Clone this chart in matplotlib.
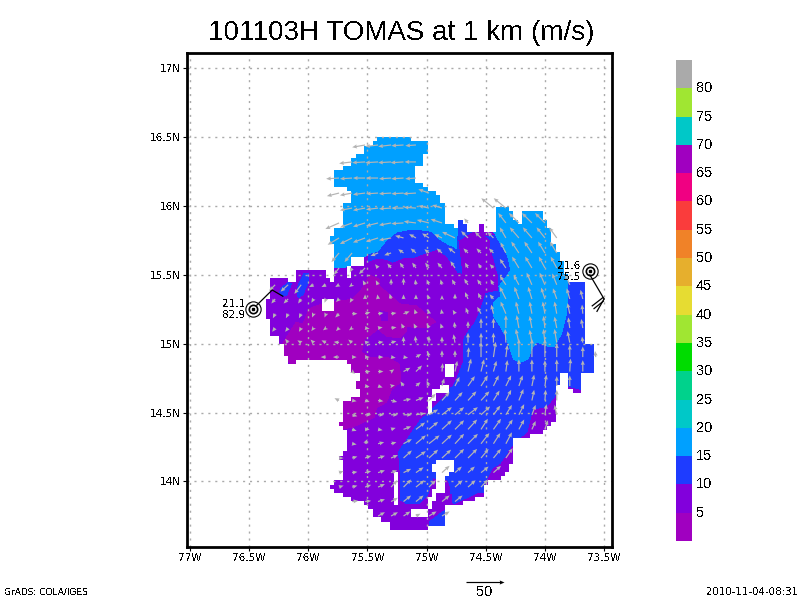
import numpy as np
import matplotlib
matplotlib.use("Agg")
import matplotlib.pyplot as plt
from matplotlib.path import Path
from matplotlib.colors import ListedColormap

# ---- axes / labels
X_TICKS = [-77, -76.5, -76, -75.5, -75, -74.5, -74, -73.5]
X_LABELS = ["77W", "76.5W", "76W", "75.5W", "75W", "74.5W", "74W", "73.5W"]
Y_TICKS = [14, 14.5, 15, 15.5, 16, 16.5, 17]
Y_LABELS = ["14N", "14.5N", "15N", "15.5N", "16N", "16.5N", "17N"]

# ---- colour key
KEY_LEVELS = [5, 10, 15, 20, 25, 30, 35, 40, 45, 50, 55, 60, 65, 70, 75, 80, 85]
KEY_COLORS = ["#a000c0", "#8200dc", "#1e3cff", "#00a0ff", "#00c8c8", "#00d28c", "#00dc00",
              "#a0e632", "#e6dc32", "#e6af2d", "#f08228", "#fa3c3c", "#f00082", "#a000c0",
              "#00c8c8", "#a0e632", "#aaaaaa"]

# ---- wind speed regions (lon, lat)
OUTER = [(-75.41,16.50),(-75.115,16.50),(-75.115,16.465),(-75.005,16.465),(-75.005,16.39),(-75.04,16.39),
 (-75.04,16.28),(-75.08,16.28),(-75.08,16.17),(-75.04,16.17),(-75.04,16.14),(-74.97,16.14),(-74.97,16.10),
 (-74.93,16.10),(-74.93,16.065),(-74.895,16.065),(-74.895,16.03),(-74.86,16.03),(-74.86,15.87),(-74.735,15.85),
 (-74.735,15.93),(-74.65,15.85),(-74.65,15.81),(-74.55,15.81),(-74.55,15.855),(-74.505,15.855),(-74.505,15.81),
 (-74.44,15.81),(-74.395,15.85),(-74.405,15.99),(-74.295,15.99),(-74.295,15.96),(-74.235,15.88),(-74.185,15.88),
 (-74.185,15.96),(-74.04,15.96),(-74.00,15.90),(-73.965,15.86),(-73.93,15.72),(-73.90,15.67),(-73.85,15.61),
 (-73.805,15.45),(-73.645,15.45),(-73.645,14.99),(-73.60,14.99),(-73.575,14.955),(-73.575,14.90),(-73.60,14.90),
 (-73.60,14.79),(-73.68,14.79),(-73.68,14.63),(-73.76,14.63),(-73.76,14.67),(-73.805,14.67),(-73.805,14.795),
 (-73.855,14.795),(-73.855,14.70),(-73.90,14.70),(-73.90,14.46),(-73.94,14.395),(-74.04,14.35),(-74.11,14.35),
 (-74.15,14.30),(-74.25,14.30),(-74.25,14.205),(-74.295,14.12),(-74.36,14.025),(-74.505,13.99),(-74.505,13.915),
 (-74.575,13.88),(-74.70,13.84),(-74.83,13.84),(-74.83,13.69),(-74.98,13.69),(-75.005,13.655),(-75.30,13.655),
 (-75.30,13.70),(-75.37,13.70),(-75.37,13.75),(-75.44,13.75),(-75.48,13.805),(-75.51,13.84),(-75.62,13.87),
 (-75.73,13.915),(-75.80,13.95),(-75.80,13.99),(-75.73,14.01),(-75.70,14.06),(-75.73,14.19),(-75.70,14.23),
 (-75.655,14.245),(-75.655,14.375),(-75.70,14.375),(-75.73,14.42),(-75.70,14.46),(-75.70,14.555),(-75.75,14.59),
 (-75.555,14.60),(-75.555,14.67),(-75.59,14.67),(-75.59,14.715),(-75.555,14.715),(-75.555,14.80),(-75.62,14.80),
 (-75.665,14.85),(-75.665,14.885),(-76.09,14.885),(-76.09,14.85),(-76.16,14.85),(-76.16,14.92),(-76.20,14.92),
 (-76.20,14.99),(-76.23,14.99),(-76.23,15.06),(-76.31,15.06),(-76.31,15.17),(-76.34,15.17),(-76.34,15.34),
 (-76.31,15.34),(-76.31,15.485),(-76.20,15.485),(-76.18,15.455),(-76.095,15.455),(-76.095,15.53),(-75.84,15.53),
 (-75.83,15.46),(-75.77,15.46),(-75.77,15.54),(-75.77,15.72),(-75.80,15.72),(-75.80,15.775),(-75.77,15.775),
 (-75.77,15.85),(-75.70,15.85),(-75.70,16.03),(-75.62,16.03),(-75.62,16.10),(-75.655,16.10),(-75.655,16.14),
 (-75.77,16.14),(-75.77,16.25),(-75.70,16.25),(-75.70,16.28),(-75.63,16.28),(-75.63,16.35),(-75.59,16.35),
 (-75.59,16.39),(-75.51,16.39),(-75.51,16.43),(-75.445,16.43),(-75.445,16.465),(-75.41,16.465)]
HOLES = [
 [(-75.62,15.64),(-75.51,15.64),(-75.51,15.565),(-75.62,15.565)],
 [(-75.69,15.555),(-75.62,15.555),(-75.62,15.49),(-75.69,15.49)],
 [(-75.87,15.32),(-75.77,15.32),(-75.77,15.245),(-75.87,15.245)],
 [(-74.83,14.85),(-74.76,14.85),(-74.76,14.77),(-74.83,14.77)],
 [(-74.895,14.70),(-74.80,14.70),(-74.80,14.63),(-74.905,14.63),(-74.905,14.60),(-74.945,14.555),(-74.945,14.49),
  (-75.005,14.49),(-75.005,14.555),(-74.97,14.60),(-74.97,14.67),(-74.895,14.67)],
 [(-74.94,14.12),(-74.905,14.155),(-74.76,14.155),(-74.76,14.06),(-74.80,14.06),(-74.80,14.025),(-74.835,14.025),
  (-74.835,13.915),(-74.905,13.915),(-74.905,13.88),(-74.97,13.805),(-75.005,13.805),(-75.005,13.88),(-74.97,13.885),
  (-74.93,13.97),(-74.905,14.01),(-74.905,14.06),(-74.94,14.06)],
 [(-75.29,14.055),(-75.225,14.055),(-75.225,13.84),(-75.29,13.84)],
 [(-75.115,13.805),(-75.005,13.805),(-75.005,13.73),(-75.115,13.73)],
]
BELOW5 = [(-76.22,15.01),(-76.11,15.16),(-76.05,15.15),(-76.00,15.26),(-75.885,15.295),(-75.63,15.33),(-75.56,15.39),
 (-75.48,15.505),(-75.395,15.475),(-75.395,15.425),(-75.265,15.33),(-75.225,15.295),(-75.08,15.28),(-74.91,15.16),
 (-75.00,15.115),(-75.165,15.12),(-75.165,15.085),(-75.225,15.04),(-75.335,15.05),(-75.41,15.10),(-75.52,15.03),
 (-75.545,14.94),(-75.46,14.90),(-75.325,14.905),(-75.225,14.855),(-75.21,14.72),(-75.29,14.665),(-75.335,14.57),
 (-75.42,14.53),(-75.435,14.46),(-75.62,14.39),(-75.77,14.36),(-75.77,14.63),(-75.69,14.795),(-76.07,14.795),(-76.28,14.94)]
ISLAND5 = [(-75.395,15.245),(-75.325,15.23),(-75.325,15.17),(-75.385,15.17)]
BAND15_NORTH = [(-75.50,15.68),(-75.395,15.86),(-74.735,15.94),(-74.63,15.86),(-74.615,15.81),(-74.72,15.75),(-74.735,15.75),
 (-74.70,15.51),(-74.745,15.52),(-74.82,15.62),(-74.905,15.68),(-75.03,15.645),(-75.10,15.62),(-75.18,15.62),
 (-75.285,15.585),(-75.335,15.605),(-75.41,15.615),(-75.495,15.59)]
BAND15_SOUTH = [(-74.515,15.78),(-74.395,15.79),(-73.53,15.79),(-73.53,14.63),(-73.875,14.70),(-73.915,14.61),(-73.98,14.54),
 (-74.10,14.52),(-74.15,14.35),(-74.25,14.285),(-74.38,14.13),(-74.44,14.10),(-74.505,13.99),(-74.505,13.915),
 (-74.575,13.915),(-74.76,13.84),(-74.785,13.84),(-74.80,13.965),(-74.82,14.01),(-74.94,14.025),(-74.985,13.90),
 (-75.055,13.84),(-75.165,13.835),(-75.225,13.865),(-75.225,14.06),(-75.24,14.215),(-75.155,14.32),(-75.055,14.445),
 (-74.945,14.53),(-74.82,14.64),(-74.76,14.735),(-74.70,14.86),(-74.70,14.955),(-74.69,15.05),(-74.605,15.15),
 (-74.565,15.22),(-74.505,15.37),(-74.395,15.39),(-74.395,15.485),(-74.465,15.695),(-74.465,15.75)]
BAND15_CORNER = [(-74.98,13.71),(-74.83,13.805),(-74.83,13.68),(-74.98,13.68)]
BAND15_WEST_A = [(-76.24,15.41),(-76.17,15.455),(-76.14,15.44),(-76.18,15.355),(-76.22,15.34),(-76.25,15.375)]
BAND15_WEST_B = [(-76.09,15.44),(-76.045,15.515),(-76.00,15.515),(-76.00,15.44),(-76.045,15.355),(-76.09,15.33),(-76.105,15.375)]
BAND20_NORTH = [(-75.90,16.60),(-74.735,16.60),(-74.735,15.81),(-74.745,15.77),(-74.745,15.68),(-74.775,15.695),(-74.885,15.75),
 (-74.955,15.81),(-75.04,15.82),(-75.165,15.82),(-75.25,15.805),(-75.325,15.755),(-75.41,15.665),(-75.495,15.645),
 (-75.51,15.63),(-75.615,15.63),(-75.62,15.57),(-75.69,15.555),(-75.725,15.55),(-75.815,15.55)]
BAND20_EAST = [(-74.44,15.81),(-74.38,15.72),(-74.32,15.63),(-74.295,15.54),(-74.335,15.49),(-74.395,15.42),(-74.38,15.35),
 (-74.44,15.30),(-74.44,15.20),(-74.38,15.12),(-74.335,15.05),(-74.27,14.885),(-74.21,14.86),(-74.14,14.885),
 (-74.11,14.955),(-74.07,15.01),(-73.98,14.98),(-73.915,14.98),(-73.855,15.07),(-73.81,15.225),(-73.805,15.34),
 (-73.805,15.60),(-73.87,15.72),(-73.95,15.94),(-74.12,16.05),(-74.42,16.05),(-74.465,15.87)]

# ---- wind vectors, row by row from south to north (m/s)
COL_LONS = [-76.28, -76.17, -76.06, -75.955, -75.85, -75.74, -75.63, -75.52, -75.41, -75.30, -75.195, -75.09,
            -74.98, -74.87, -74.76, -74.65, -74.54, -74.435, -74.33, -74.22, -74.11, -74.00, -73.90, -73.79,
            -73.68, -73.57]
ROW_LATS = [13.749, 13.854, 13.959, 14.064, 14.170, 14.274, 14.378, 14.484, 14.588, 14.693, 14.798, 14.903, 15.008,
            15.114, 15.218, 15.325, 15.428, 15.550, 15.659, 15.768, 15.877, 15.985, 16.094, 16.203, 16.320, 16.443]
ROW_FIRST_COL = [8, 6, 5, 5, 5, 6, 6, 6, 5, 7, 6, 4, 1, 0, 0, 0, 0, 5, 5, 5, 5, 6, 5, 5, 6, 7]
n = float("nan")
WIND_U = [
 [9,9,9,6,10,10],
 [8,8,9,9,10,10,n,10,10],
 [6,7,8,9,8,10,11,9,n,10,10,9],
 [6,7,8,9,8,10,10,n,10,9,9,10,10],
 [6,7,8,9,9,11,13,12,12,12,12,10,10,9],
 [6,3,8,7,11,13,14,13,12,13,11,9,8],
 [6,6,6,6,10,12,12,13,12,12,9,10,9,7,5,4],
 [7,8,8,9,11,12,12,13,12,13,12,9,8,7,5,2,-3],
 [-6,6,6,7,8,10,10,9,10,10,11,11,8,7,6,3,1,0],
 [6,6,5,-4,6,-3,3,6,9,9,7,7,5,3,2,0,0],
 [4,7,7,4,9,8,n,1,3,4,4,4,2,0,0,0,0,1,0],
 [-7,-8,6,6,7,6,6,7,-2,0,0,1,0,3,2,0,0,0,0,0,0,-1],
 [-4,-5,-4,-6,-7,-5,6,7,7,0,-1,0,0,-2,0,0,0,-1,-4,-3,-2,-3,-3,-1],
 [-4,-4,-3,-3,-4,-4,-4,6,6,7,-3,-3,-3,-2,-1,0,0,0,0,-3,-3,-2,-3,-2,-2],
 [-3,-3,-3,-2,-2,-5,7,7,7,7,8,-2,-1,-1,-3,-3,-5,-3,-7,-4,-3,-3,-3,-3,-1],
 [-5,-6,-4,-3,-2,-4,-3,0,-1,-2,0,0,-2,0,0,-4,-4,-5,-8,-6,-5,-5,-5,-4,-3],
 [-8,-10,-9,-6,-6,-5,-4,-3,-3,0,0,-1,-3,-2,-4,-5,-5,-4,-8,-7,-7,-7,-6,-6],
 [-7,-3,-8,-4,-5,-5,-5,-5,-6,-6,-4,-4,-5,-8,-9,-9,-8,-8],
 [-10,-10,n,-10,-9,-7,-7,-6,-7,-9,-6,-6,-6,-7,-10,-10,-9,-9],
 [-15,-16,-16,-16,-16,-11,-9,-9,-10,-17,-9,-8,-8,-8,-12,-12,-11,-10],
 [-18,-16,-16,-16,-16,-16,-16,-16,-15,n,-5,n,n,-10,-13,-13,-13],
 [-16,-16,-16,-16,-16,-16,-14,-13,n,n,n,-16,-16],
 [-16,-16,-16,-16,-16,-16,-17,-14],
 [-17,-16,-16,-16,-16,-16,-14],
 [-17,-17,-17,-17,-17,-15],
 [-17,-17,-17,-16,-14],
]
WIND_V = [
 [5,5,6,3,6,6],
 [1,1,3,5,8,8,n,8,8],
 [2,2,3,4,9,10,9,9,n,9,9,10],
 [2,1,2,3,3,5,7,n,9,8,8,8,9],
 [0,2,3,3,4,10,9,11,11,12,12,12,12,13],
 [-1,6,2,2,6,11,11,12,13,13,14,14,15],
 [-2,0,-1,2,4,9,10,12,12,13,14,14,13,13,11,12],
 [-2,0,0,0,0,2,7,10,10,10,11,12,13,14,13,14,13],
 [3,-1,-2,-1,-2,2,4,9,11,11,12,12,13,14,15,14,14,14],
 [-1,-2,1,6,5,7,10,12,13,14,14,14,14,15,15,13,14],
 [-3,0,0,3,5,8,n,11,14,17,16,14,15,16,16,15,16,17,15],
 [0,0,0,0,0,-1,-1,4,8,9,9,13,20,20,16,24,24,24,18,16,14,8],
 [5,3,4,3,1,4,1,1,2,8,9,9,8,11,13,13,13,18,18,17,18,18,15,8],
 [-5,-5,-5,-4,-3,-4,-3,-1,1,1,6,6,6,6,8,9,13,13,17,17,16,16,15,14,12],
 [-6,-6,-6,-5,-5,-5,0,2,1,1,3,6,6,6,5,8,9,12,16,16,16,16,16,14,12],
 [-6,-6,-6,-5,-5,-4,-5,6,6,7,6,6,6,5,7,9,8,6,16,16,16,15,14,14,12],
 [-8,-9,-12,-3,-3,-3,-3,6,6,8,9,7,7,7,7,8,7,7,12,13,16,16,15,14],
 [-9,-6,-8,5,6,7,7,7,7,9,7,6,5,12,15,15,15,15],
 [-12,-12,n,-4,-3,5,6,5,6,7,6,6,6,14,15,15,15,15],
 [-9,-8,-6,-5,-3,3,5,6,5,8,9,8,8,14,14,14,14,14],
 [-8,-6,-5,-4,-3,-1,2,4,5,n,6,n,n,13,13,13,13],
 [-3,-3,-2,-1,0,1,3,4,n,n,n,13,13],
 [-4,-3,-2,-1,-1,-1,-1,5],
 [-1,-1,0,0,-1,-1,-1],
 [-2,-1,-1,-1,-1,0],
 [-3,-2,-2,-1,-1],
]

# ---- storm markers
STORM_W = (-76.47, 15.25)
STORM_E = (-73.62, 15.53)
TRACK_W_LON, TRACK_W_LAT = [-76.435, -76.305, -76.215], [15.28, 15.39, 15.345]
TRACK_E_LON, TRACK_E_LAT = [-73.62, -73.50], [15.50, 15.325]
BARBS_E = [[(-73.51, 15.335), (-73.60, 15.275)], [(-73.505, 15.31), (-73.585, 15.255)], [(-73.50, 15.325), (-73.56, 15.235)]]

# ---- figure
GRAY = "#aaaaaa"
plt.rcParams["font.family"] = "DejaVu Sans"
plt.rcParams["text.antialiased"] = False
fig = plt.figure(figsize=(8, 6), dpi=100)
ax = fig.add_axes([187 / 800, (600 - 547) / 600, (612 - 187) / 800, (547 - 53) / 600])
ax.set_xlim(-77.025, -73.433)
ax.set_ylim(13.524, 17.111)

lon_e = np.arange(-77.025, -73.433, 0.0085)
lat_e = np.arange(13.524, 17.111, 0.0073)
lon_c, lat_c = np.meshgrid(lon_e[:-1] + 0.00425, lat_e[:-1] + 0.00365)
fine = np.column_stack([lon_c.ravel(), lat_c.ravel()])
CELL_X, CELL_Y = 0.036, 0.03
snap = np.column_stack([(np.floor(fine[:, 0] / CELL_X) + 0.5) * CELL_X,
                        (np.floor(fine[:, 1] / CELL_Y) + 0.5) * CELL_Y])

def inside(poly, pts):
    return Path(poly).contains_points(pts).reshape(lon_c.shape)

level = np.ones(lon_c.shape)
level[inside(BELOW5, fine)] = 0
level[inside(ISLAND5, fine)] = 1
for poly in (BAND15_NORTH, BAND15_SOUTH, BAND15_CORNER, BAND15_WEST_A, BAND15_WEST_B):
    level[inside(poly, fine)] = 2
for poly in (BAND20_NORTH, BAND20_EAST):
    level[inside(poly, fine)] = 3
valid = inside(OUTER, snap)
for hole in HOLES:
    valid &= ~inside(hole, snap)
ax.pcolormesh(lon_e, lat_e, np.ma.masked_where(~valid, level), cmap=ListedColormap(KEY_COLORS[:4]),
              vmin=-0.5, vmax=3.5, shading="flat", antialiased=False, zorder=1, rasterized=True)

ax.set_xticks(X_TICKS, X_LABELS, fontsize=7.5)
ax.set_yticks(Y_TICKS, Y_LABELS, fontsize=7.5)
ax.tick_params(length=3, width=0.8, pad=1.5)
ax.grid(True, color=GRAY, lw=1, linestyle=(0, (1.5, 3.5)), zorder=2)
ax.set_axisbelow(False)
for s in ax.spines.values():
    s.set_linewidth(2)
    s.set_zorder(5)

xs, ys, us, vs = [], [], [], []
for lat, first, ru, rv in zip(ROW_LATS, ROW_FIRST_COL, WIND_U, WIND_V):
    for i, (a, b) in enumerate(zip(ru, rv)):
        if a == a:
            xs.append(COL_LONS[first + i]); ys.append(lat); us.append(a); vs.append(b)
Q = ax.quiver(xs, ys, us, vs, angles="uv", scale_units="dots", scale=1 / 0.76, units="dots", width=1.2,
              headwidth=3.4, headlength=4.0, headaxislength=3.6, minlength=0.1, minshaft=0.8, pivot="tail",
              color="#b4b4b4", zorder=3)

# storm symbols
for (slon, slat) in (STORM_W, STORM_E):
    ax.plot([slon], [slat], "o", ms=11, mfc="none", mec="k", mew=0.8, zorder=4, clip_on=False)
    ax.plot([slon], [slat], "o", ms=6, mfc="none", mec="k", mew=1.2, zorder=4, clip_on=False)
    ax.plot([slon], [slat], "s", ms=2, mfc="k", mec="k", zorder=4, clip_on=False)
ax.plot(TRACK_W_LON, TRACK_W_LAT, color="k", lw=0.9, zorder=4)
ax.plot(TRACK_E_LON, TRACK_E_LAT, color="k", lw=0.9, zorder=4)
for seg in BARBS_E:
    ax.plot([seg[0][0], seg[1][0]], [seg[0][1], seg[1][1]], color="k", lw=0.9, zorder=4)
ax.text(-76.63, 15.29, "21.1", ha="center", va="center", fontsize=7.5, zorder=4)
ax.text(-76.63, 15.21, "82.9", ha="center", va="center", fontsize=7.5, zorder=4)
ax.text(-73.795, 15.565, "21.6", ha="center", va="center", fontsize=7.5, zorder=4)
ax.text(-73.795, 15.485, "75.5", ha="center", va="center", fontsize=7.5, zorder=4)

# title and footer
fig.text(401 / 800, 1 - 33 / 600, "101103H TOMAS at 1 km (m/s)", ha="center", va="center",
         fontsize=20, family="Liberation Sans")
fig.text(4 / 800, 1 - 592 / 600, "GrADS: COLA/IGES", ha="left", va="center", fontsize=6.5)
fig.text(798 / 800, 1 - 592 / 600, "2010-11-04-08:31", ha="right", va="center", fontsize=7.4)
fig.text(485 / 800, 1 - 592 / 600, "50", ha="center", va="center", fontsize=10.5, family="Liberation Sans")
ax.quiverkey(Q, 485 / 800, 1 - 582 / 600, 50, "", coordinates="figure", color="k", labelpos="N")

# colour key
cax = fig.add_axes([676 / 800, (600 - 541) / 600, 16 / 800, (541 - 60) / 600])
bottoms = [0] + KEY_LEVELS[:-1]
cax.bar([0] * len(KEY_LEVELS), [t - b for t, b in zip(KEY_LEVELS, bottoms)], bottom=bottoms, width=1, color=KEY_COLORS)
cax.set_xlim(-0.5, 0.5)
cax.set_ylim(0, KEY_LEVELS[-1])
cax.axis("off")
for v in KEY_LEVELS[:-1]:
    cax.text(0.75, v, str(v), ha="left", va="center", fontsize=10.5, family="Liberation Sans", clip_on=False)

fig.savefig("out.png", dpi=100)
